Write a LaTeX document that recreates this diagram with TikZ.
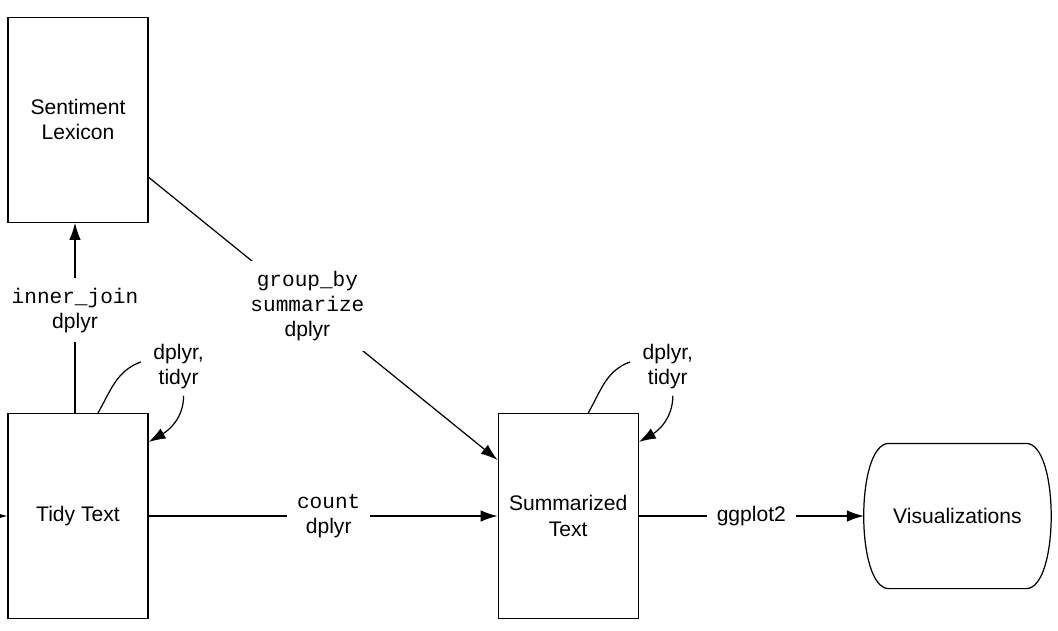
\documentclass[tikz,border=0pt]{standalone}
\usepackage{fontspec}
\setmainfont{Liberation Sans}
\setmonofont{Liberation Mono}
\usetikzlibrary{positioning,arrows.meta}

\begin{document}
\begin{tikzpicture}[node distance=3.8cm, line width=0.7pt,
                    >={Latex[length=3.4mm,width=2.3mm]},
                    every node/.style={font=\fontsize{12}{14.3}\selectfont},
                    main node/.style={rectangle,draw,minimum width=2.8cm,minimum height=4.1cm,align=center},
                    step label/.style={fill=white,align=center,inner sep=5.5pt}]
  \useasboundingbox (0,0) rectangle (21.16,-12.6);

  \node[main node] (tidy) at (1.56,-10.32) {Tidy Text};
  \node[main node] (lex) [above=3.8cm of tidy] {Sentiment\\Lexicon};
  \node[main node] (summ) [right=6.98cm of tidy] {Summarized\\Text};
  \node[minimum width=3.72cm,minimum height=2.88cm] (vis) [right=4.5cm of summ] {Visualizations};
  \coordinate (start) at (0,-10.32);

  % loop labels
  \node[align=center] (tidyfix) at ([shift={(0.6,0.92)}]tidy.north east) {dplyr,\\tidyr};
  \node[align=center] (summfix) at ([shift={(0.58,0.92)}]summ.north east) {dplyr,\\tidyr};

  % outline of the visualizations node
  \draw ([xshift=0.5cm]vis.north west) -- ([xshift=-0.5cm]vis.north east)
    .. controls ([xshift=0.17cm]vis.north east) and ([xshift=0.17cm]vis.south east) .. ([xshift=-0.5cm]vis.south east)
    -- ([xshift=0.5cm]vis.south west)
    .. controls ([xshift=-0.17cm]vis.south west) and ([xshift=-0.17cm]vis.north west) .. cycle;

  \draw[->] (start) -- (tidy);
  \draw[->] ([xshift=-0.06cm]tidy.north) -- node[step label,pos=0.54] {\texttt{inner\_join}\\dplyr} ([xshift=-0.06cm]lex.south);
  \draw[->] ([yshift=-1.15cm]lex.east) -- node[step label,pos=0.455] {\texttt{group\_by}\\\texttt{summarize}\\dplyr} ([yshift=1.12cm]summ.west);
  \draw[->] (tidy) -- node[step label,pos=0.516] {\texttt{count}\\dplyr} (summ);
  \draw[->] (summ) -- node[step label] {ggplot2} (vis);

  \draw ([xshift=0.4cm]tidy.north) to[out=60,in=200] ([xshift=-0.12cm,yshift=0.1cm]tidyfix.west);
  \draw[->] ([xshift=0.1cm]tidyfix.south) to[out=-90,in=30] ([yshift=1.48cm]tidy.east);
  \draw ([xshift=0.4cm]summ.north) to[out=60,in=200] ([xshift=-0.12cm,yshift=0.1cm]summfix.west);
  \draw[->] ([xshift=0.1cm]summfix.south) to[out=-90,in=30] ([yshift=1.48cm]summ.east);
\end{tikzpicture}
\end{document}
